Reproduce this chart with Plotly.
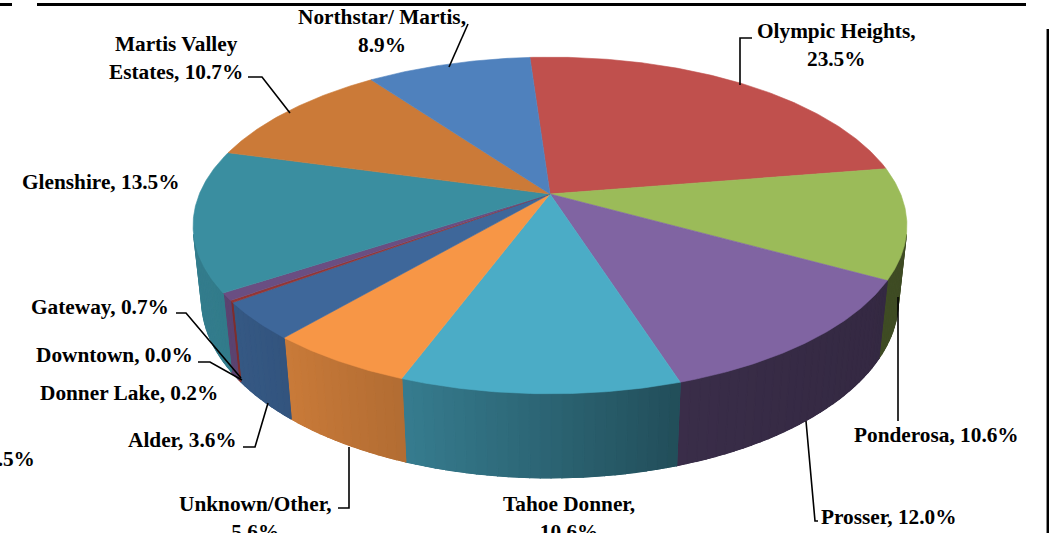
import numpy as np
import plotly.graph_objects as go

# ---------------- data ----------------
categories = ["Olympic Heights", "Ponderosa", "Prosser", "Tahoe Donner", "Unknown/Other",
              "Alder", "Donner Lake", "Downtown", "Gateway", "Glenshire",
              "Martis Valley Estates", "Northstar/ Martis"]
shares = [23.5, 10.6, 12.0, 10.6, 5.6, 3.6, 0.2, 0.0, 0.7, 13.5, 10.7, 8.9]
top_colors = ["#C0504D", "#9BBB59", "#8064A2", "#4BACC6", "#F79646", "#3E679A",
              "#943634", "#5F7530", "#6A4E82", "#3A8EA0", "#CB7A38", "#4F81BD"]

# label texts, positions kept separately
label_specs = [
    ("Northstar/ Martis,<br>8.9%", 382, 31, "center"),
    ("Olympic Heights,<br>23.5%", 836, 45, "center"),
    ("Martis Valley<br>Estates, 10.7%", 176, 58, "center"),
    ("Glenshire, 13.5%", 101, 182, "center"),
    ("Gateway, 0.7%", 100, 307, "center"),
    ("Downtown, 0.0%", 114, 355, "center"),
    ("Donner Lake, 0.2%", 129, 393, "center"),
    ("Alder, 3.6%", 182, 440, "center"),
    ("Unknown/Other,<br>5.6%", 255, 518, "center"),
    ("Tahoe Donner,<br>10.6%", 569, 518, "center"),
    ("Prosser, 12.0%", 888, 517, "center"),
    ("Ponderosa, 10.6%", 936, 435, "center"),
    ("0.5%", 37, 459, "right"),
]
leaders = [
    [(468, 24), (449, 67)],
    [(752, 38), (740, 38), (740, 85)],
    [(248, 77), (262, 77), (290, 113)],
    [(176, 313), (186, 313), (241, 378)],
    [(198, 362), (210, 362), (242, 380)],
    [(243, 447), (255, 447), (268, 403)],
    [(338, 508), (349, 508), (349, 447)],
    [(806, 421), (815, 521), (818, 521)],
    [(898, 297), (898, 421)],
]

# ---------------- 3D projection of the pie ----------------
elev = np.radians(27.6)
ce, se = np.cos(elev), np.sin(elev)
D = 4.74          # camera distance (pie radius = 1)
F = 1662.0        # focal scale in pixels
CX, CY = 550.0, 194.0
T = 0.2415        # pie thickness
START = np.radians(93.9)


def proj(phi, z):
    x, y = np.cos(phi), np.sin(phi)
    dx, dy, dz = x, y + D * ce, z - D * se
    depth = dy * ce - dz * se
    up = dy * se + dz * ce
    return CX + F * dx / depth, CY - F * up / depth


def shade(hex_color, f):
    h = hex_color.lstrip("#")
    r, g, b = (int(h[i:i + 2], 16) for i in (0, 2, 4))
    return "rgb(%d,%d,%d)" % (round(r * f), round(g * f), round(b * f))


def wall_factor(phi):
    d = -np.degrees(phi)
    return float(np.interp(d, [14, 50, 72, 90, 110, 125, 137, 150, 167],
                           [0.40, 0.42, 0.45, 0.58, 0.72, 0.79, 0.84, 0.87, 0.88]))


def wall_poly(p_start, p_end, npts):
    seg = np.linspace(p_start, p_end, npts)
    xs, ys = [], []
    for p in seg:
        X, Y = proj(p, 0.0)
        xs.append(X); ys.append(Y)
    for p in seg[::-1]:
        X, Y = proj(p, -T)
        xs.append(X); ys.append(Y)
    xs.append(xs[0]); ys.append(ys[0])
    return xs, ys


total = float(sum(shares))
bounds = [START]
for v in shares:
    bounds.append(bounds[-1] - 2 * np.pi * v / total)

a0 = np.arcsin(1.0 / (D * ce))
vis_lo, vis_hi = -np.pi + a0, -a0

fig = go.Figure()

# side walls (front, visible part): base polygon then shaded strips
for i, name in enumerate(categories):
    hi, lo = bounds[i], bounds[i + 1]
    a, b = max(lo, vis_lo), min(hi, vis_hi)
    if b <= a:
        continue
    xs, ys = wall_poly(b, a, 60)
    base = shade(top_colors[i], wall_factor(0.5 * (a + b)))
    fig.add_trace(go.Scatter(x=xs, y=ys, mode="lines", fill="toself",
                             fillcolor=base, line=dict(color=base, width=0.8),
                             hoverinfo="skip", showlegend=False))
    n = max(1, int(np.ceil(np.degrees(b - a) / 1.5)))
    edges = np.linspace(b, a, n + 1)
    for k in range(n):
        p1, p2 = edges[k], edges[k + 1]
        xs, ys = wall_poly(p1, p2, 4)
        col = shade(top_colors[i], wall_factor(0.5 * (p1 + p2)))
        fig.add_trace(go.Scatter(x=xs, y=ys, mode="lines", fill="toself",
                                 fillcolor=col, line=dict(color=col, width=1.2),
                                 hoverinfo="skip", showlegend=False))

# top faces
for i, name in enumerate(categories):
    hi, lo = bounds[i], bounds[i + 1]
    if hi - lo <= 0:
        continue
    n = max(2, int(np.ceil(np.degrees(hi - lo) / 0.5)))
    arc = np.linspace(hi, lo, n + 1)
    xs, ys = [CX], [CY]
    for p in arc:
        X, Y = proj(p, 0.0)
        xs.append(X); ys.append(Y)
    xs.append(CX); ys.append(CY)
    fig.add_trace(go.Scatter(x=xs, y=ys, mode="lines", fill="toself",
                             fillcolor=top_colors[i],
                             line=dict(color=top_colors[i], width=0.6),
                             hoverinfo="skip", showlegend=False, name=name))

# labels
for text, x, y, xa in label_specs:
    fig.add_annotation(x=x, y=y, xref="x", yref="y", text="<b>%s</b>" % text,
                       showarrow=False, xanchor=xa, yanchor="middle", align="center",
                       font=dict(family="Liberation Serif, Times New Roman, serif",
                                 size=21.3, color="black"))

shapes = []
for pts in leaders:
    path = "M %s,%s " % pts[0] + " ".join("L %s,%s" % p for p in pts[1:])
    shapes.append(dict(type="path", path=path, xref="x", yref="y",
                       line=dict(color="black", width=1.6)))
# frame lines
shapes.append(dict(type="line", x0=0, x1=12, y0=4.5, y1=4.5, xref="x", yref="y",
                   line=dict(color="black", width=3)))
shapes.append(dict(type="line", x0=37, x1=1026, y0=4.5, y1=4.5, xref="x", yref="y",
                   line=dict(color="black", width=3)))
shapes.append(dict(type="line", x0=1047.8, x1=1047.8, y0=29, y1=533, xref="x", yref="y",
                   line=dict(color="black", width=2.5)))

fig.update_layout(
    width=1049, height=533,
    margin=dict(l=0, r=0, t=0, b=0),
    paper_bgcolor="white", plot_bgcolor="white",
    xaxis=dict(range=[0, 1049], visible=False, fixedrange=True),
    yaxis=dict(range=[533, 0], visible=False, fixedrange=True),
    shapes=shapes,
    showlegend=False,
)

fig.write_html("out.html", config={"displayModeBar": False, "staticPlot": True},
               post_script="document.body.style.margin='0';document.body.style.overflow='hidden';")
